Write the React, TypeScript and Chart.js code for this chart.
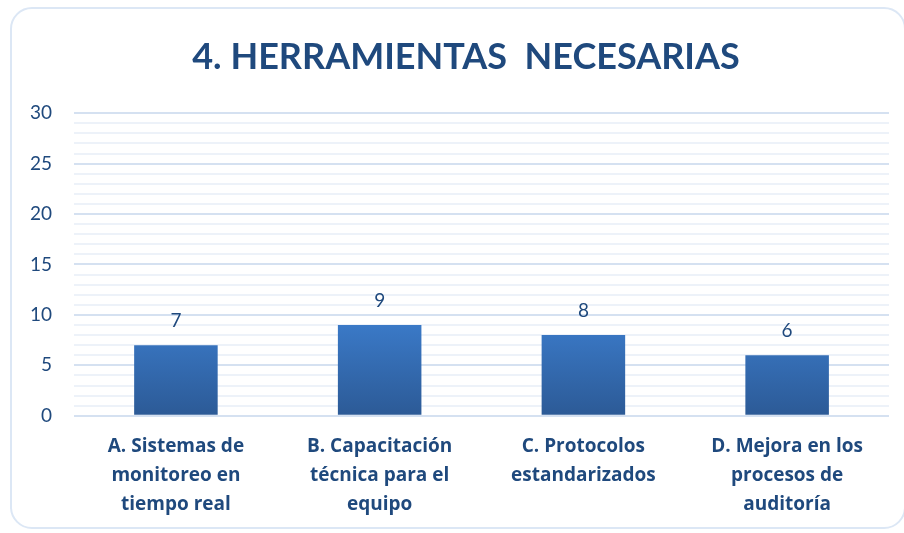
import React, { useEffect, useRef } from "react";
import { Chart, registerables } from "chart.js";

Chart.register(...registerables);

const titleText = "\u00A0\u00A0\u00A0\u00A04. HERRAMIENTAS  NECESARIAS";
const categories: string[][] = [
  ["A. Sistemas de", "monitoreo en", "tiempo real"],
  ["B. Capacitación", "técnica para el", "equipo"],
  ["C. Protocolos", "estandarizados"],
  ["D. Mejora en los", "procesos de", "auditoría"],
];
const values = [7, 9, 8, 6];
const yMin = 0;
const yMax = 30;
const majorStep = 5;

const FONT = "Lato, 'Open Sans', 'DejaVu Sans', sans-serif";
const CAT_FONT = "'Open Sans', Lato, 'DejaVu Sans', sans-serif";
const TEXT = "#1f497d";

const valueLabels = {
  id: "valueLabels",
  afterDatasetsDraw(chart: any) {
    const ctx = chart.ctx;
    const meta = chart.getDatasetMeta(0);
    ctx.save();
    ctx.font = `19px ${FONT}`;
    ctx.fillStyle = TEXT;
    ctx.textAlign = "center";
    ctx.textBaseline = "bottom";
    meta.data.forEach((bar: any, i: number) => {
      ctx.fillText(String(values[i]), bar.x, bar.y - 15);
    });
    ctx.restore();
  },
};

export default function App() {
  const ref = useRef<HTMLCanvasElement>(null);
  useEffect(() => {
    document.body.style.margin = "0";
    const chart = new Chart(ref.current!, {
      type: "bar",
      data: {
        labels: categories,
        datasets: [
          {
            data: values,
            backgroundColor: (c: any) => {
              const area = c.chart.chartArea;
              if (!area) return "#3573bd";
              const g = c.chart.ctx.createLinearGradient(0, area.top + 200, 0, area.bottom);
              g.addColorStop(0, "#3c7dcd");
              g.addColorStop(1, "#2c5a96");
              return g;
            },
            barPercentage: 0.82,
            categoryPercentage: 0.5,
          },
        ],
      },
      options: {
        animation: false,
        responsive: false,
        maintainAspectRatio: false,
        layout: { padding: { left: 8, right: 15, top: 6, bottom: 6 } },
        plugins: {
          legend: { display: false },
          tooltip: { enabled: false },
          title: {
            display: true,
            text: titleText,
            color: TEXT,
            font: { family: FONT, size: 36, weight: "bold" },
            padding: { top: 30, bottom: 34 },
          },
        },
        scales: {
          x: {
            grid: { display: false },
            border: { display: false },
            ticks: {
              color: TEXT,
              font: { family: CAT_FONT, size: 19, weight: "bold", lineHeight: 1.53 },
              padding: 8,
              maxRotation: 0,
              autoSkip: false,
            },
          },
          y: {
            min: yMin,
            max: yMax,
            border: { display: false },
            grid: {
              color: (c: any) => (c.tick && c.tick.value % majorStep === 0 ? "#d5e1f1" : "#edf2f9"),
              lineWidth: 2,
              drawTicks: false,
            },
            ticks: {
              stepSize: 1,
              autoSkip: false,
              color: TEXT,
              font: { family: FONT, size: 19 },
              padding: 22,
              callback: (v: any) => (Number(v) % majorStep === 0 ? String(v) : ""),
            },
          },
        },
      },
      plugins: [valueLabels],
    });
    return () => chart.destroy();
  }, []);
  return (
    <div style={{ position: "relative", width: 904, height: 533, background: "#fff" }}>
      <div
        style={{
          position: "absolute",
          left: 10,
          top: 7,
          width: 896,
          height: 522,
          border: "2px solid #dce7f5",
          borderRadius: 22,
          boxSizing: "border-box",
        }}
      />
      <canvas ref={ref} width={904} height={533} style={{ position: "absolute", left: 0, top: 0 }} />
    </div>
  );
}
